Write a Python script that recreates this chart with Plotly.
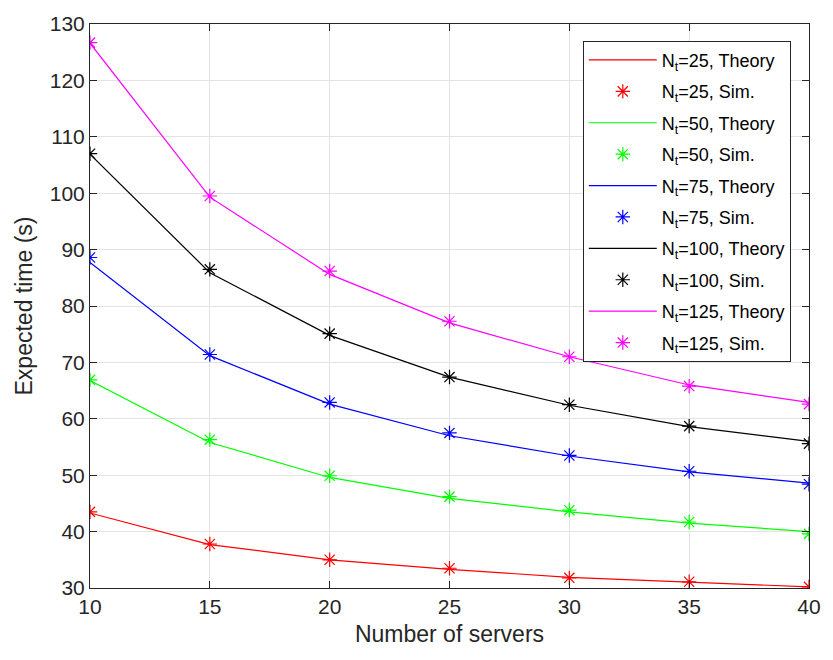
import plotly.graph_objects as go

servers = [10, 15, 20, 25, 30, 35, 40]
nt_labels = ["25", "50", "75", "100", "125"]
colors = ["#FF0000", "#00FF00", "#0000FF", "#000000", "#FF00FF"]

theory_25 = [43.3, 37.7, 35.0, 33.3, 31.9, 31.0, 30.2]
sim_25 = [43.5, 37.8, 35.0, 33.5, 31.8, 31.1, 30.2]
theory_50 = [66.8, 55.8, 49.6, 45.9, 43.5, 41.5, 40.0]
sim_50 = [66.9, 56.3, 49.9, 46.2, 43.8, 41.7, 39.6]
theory_75 = [87.7, 71.2, 62.6, 57.0, 53.4, 50.6, 48.6]
sim_75 = [88.6, 71.4, 62.9, 57.5, 53.5, 50.7, 48.4]
theory_100 = [106.9, 85.9, 74.8, 67.4, 62.4, 58.6, 56.0]
sim_100 = [107.0, 86.5, 75.1, 67.4, 62.5, 58.7, 55.6]
theory_125 = [126.6, 99.3, 85.6, 77.0, 71.0, 66.0, 62.9]
sim_125 = [126.7, 99.5, 86.2, 77.3, 71.0, 65.8, 62.6]

theories = [theory_25, theory_50, theory_75, theory_100, theory_125]
sims = [sim_25, sim_50, sim_75, sim_100, sim_125]

FONT = "Liberation Sans, Arial, Helvetica, sans-serif"
AX = "#262626"

fig = go.Figure()
k = 0
for lab, col, th, sm in zip(nt_labels, colors, theories, sims):
    fig.add_trace(go.Scatter(
        x=servers, y=th, mode="lines",
        line=dict(color=col, width=1.2),
        name=f"N<sub>t</sub>={lab}, Theory",
        legendgroup=f"g{k}", legendrank=2 * k + 1,
    ))
    fig.add_trace(go.Scatter(
        x=servers, y=sm, mode="markers",
        marker=dict(symbol="asterisk-open", size=12, color=col,
                    line=dict(color=col, width=1.2)),
        name=f"N<sub>t</sub>={lab}, Sim.",
        legendgroup=f"g{k+1}", legendrank=2 * k + 2,
    ))
    k += 2

axis_common = dict(
    showline=True, linecolor=AX, linewidth=1, mirror="ticks",
    ticks="inside", ticklen=7, tickcolor=AX, tickwidth=1,
    showgrid=True, gridcolor="#E3E3E3", gridwidth=1,
    zeroline=False,
    tickfont=dict(family=FONT, size=21, color=AX),
)

fig.update_xaxes(
    range=[10, 40], tickvals=[10, 15, 20, 25, 30, 35, 40],
    title=dict(text="Number of servers", font=dict(family=FONT, size=23, color=AX), standoff=8),
    **axis_common,
)
fig.update_yaxes(
    range=[30, 130], tickvals=[30, 40, 50, 60, 70, 80, 90, 100, 110, 120, 130],
    title=dict(text="Expected time (s)", font=dict(family=FONT, size=23, color=AX), standoff=10),
    **axis_common,
)

fig.update_layout(
    width=833, height=660,
    margin=dict(l=90, r=15, t=15, b=72),
    paper_bgcolor="white", plot_bgcolor="white",
    font=dict(family=FONT, color=AX),
    legend=dict(
        x=0.6854, y=0.9703, xanchor="left", yanchor="top",
        bgcolor="white", bordercolor=AX, borderwidth=1,
        font=dict(family=FONT, size=18, color="#000000"),
        itemwidth=68, tracegroupgap=5, traceorder="grouped",
    ),
    showlegend=True,
)

fig.write_html("out.html")
